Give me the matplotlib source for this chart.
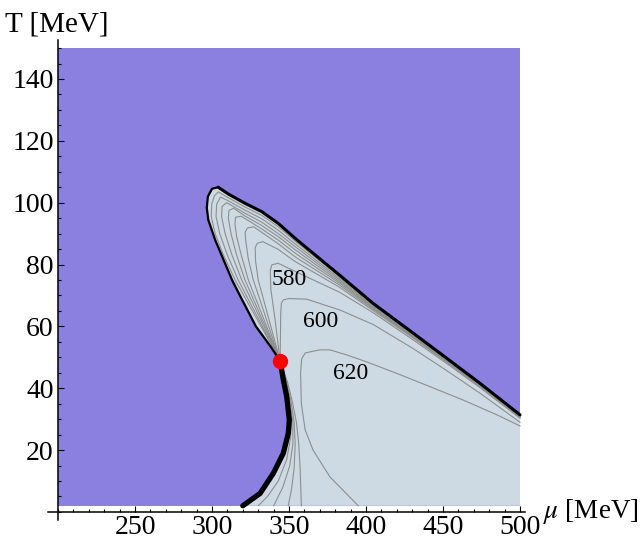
# %%
import numpy as np
import matplotlib.pyplot as plt
from matplotlib.patches import Rectangle, Polygon

plt.rcParams['font.family'] = ['Liberation Serif', 'DejaVu Serif']
plt.rcParams['mathtext.fontset'] = 'stix'

# ————————————————plot range (mu, T in MeV)
mu_range = [200, 500]
T_range = [2, 150]

# ————————————————phase boundary as (mu, T)
first_order = [(320, 2), (331.2, 6), (339.8, 12.5), (346.3, 19), (349.5, 25.4),
               (350.2, 29.7), (348.5, 37.3), (346.3, 42.7), (344.2, 48.9)]
left_edge = [(344.2, 48.9), (338, 53.5), (328.5, 60), (318.5, 69.6), (313, 75),
             (307.5, 81.5), (302, 88), (297.6, 94.4), (296.6, 98.3), (297.3, 102),
             (300, 104.5), (304, 105)]
upper_edge = [(304, 105), (310.6, 102.8), (321.4, 99.8), (332.3, 97.1), (343, 93.3),
              (353.9, 88.5), (360.4, 85.8), (383, 76.5), (404.7, 67.4), (430.7, 57.8),
              (452.4, 49.7), (474, 41.6), (500, 31.4)]
crit_point = (344.2, 48.9)

# ————————————————contour lines
fan_1 = [(344.2, 48.9), (337.4, 55), (329.6, 62), (315, 75), (307.5, 83), (302, 90),
         (299.5, 95.5), (299.8, 99.5), (301.5, 102.2), (304, 103.5), (310.6, 101.6),
         (321.4, 98.6), (332.3, 95.9), (343, 92.2), (353.9, 87.6), (383, 75.9),
         (404.7, 67.0), (430.7, 57.5), (452.4, 49.45), (474, 41.4), (500, 31.25)]
fan_2 = [(344.2, 48.9), (337.8, 55), (330.6, 62), (317, 75), (310, 83), (305, 90),
         (302.6, 95.5), (303, 99.5), (305.5, 101.8), (310.6, 100.6), (321.4, 97.6),
         (332.3, 94.8), (343, 91.1), (353.9, 86.7), (383, 75.4), (404.7, 66.7),
         (430.7, 57.3), (452.4, 49.3), (474, 41.3), (500, 31.15)]
fan_3 = [(344.2, 48.9), (338.4, 55), (331.8, 62), (319.3, 75), (313, 83), (308.5, 90),
         (306.2, 95.5), (306.5, 98.8), (309.5, 100), (321.4, 96.6), (332.3, 93.7),
         (343, 90.0), (353.9, 85.8), (383, 74.9), (404.7, 66.4), (430.7, 57.1),
         (452.4, 49.15), (474, 41.15), (500, 31.05)]
fan_4 = [(344.2, 48.9), (338.9, 55), (332.8, 62), (321.4, 75), (316, 83), (312.3, 90),
         (310.6, 95), (311, 97.5), (314, 98.2), (321.4, 95.7), (332.3, 92.6),
         (343, 89.0), (353.9, 84.8), (383, 74.4), (404.7, 66.1), (430.7, 56.9),
         (452.4, 49.0), (474, 41.05), (500, 30.95)]
fan_5 = [(344.2, 48.9), (339.4, 55), (333.9, 62), (323.6, 75), (319, 83), (316, 89),
         (314.9, 93), (315.3, 95.3), (319, 95.6), (332.3, 91.5), (343, 87.9),
         (353.9, 83.7), (383, 73.9), (404.7, 65.8), (430.7, 56.7), (452.4, 48.85),
         (474, 40.9), (500, 30.85)]
fan_6 = [(344.2, 48.9), (340.1, 55), (335.5, 62), (326.8, 75), (323.5, 82), (321.8, 88),
         (321.5, 90.5), (323, 91.8), (327, 92.2), (332.3, 90.4), (343, 86.7),
         (353.9, 82.5), (383, 73.3), (404.7, 65.5), (430.7, 56.5), (452.4, 48.7),
         (474, 40.8), (500, 30.75)]
fan_7 = [(344.2, 48.9), (340.9, 55), (337.1, 62), (330, 75), (328.3, 81), (328, 85.5),
         (329.5, 86.9), (333, 87.4), (343, 84.9), (353.9, 81.0), (383, 72.6),
         (404.7, 65.1), (430.7, 56.2), (452.4, 48.45), (474, 40.6), (500, 30.6)]
fan_580 = [(344.2, 48.9), (342.7, 55), (341, 62), (338.2, 72), (337.8, 78), (338.8, 79.9),
           (343, 80.4), (353.9, 77.8), (383, 71.0), (404.7, 64.4), (430.7, 55.6),
           (452.4, 48.0), (474, 40.2), (500, 30.3)]
fan_600 = [(344.2, 48.9), (344.4, 56), (344.6, 64), (345, 67.5), (346.5, 68.6), (350, 69.0),
           (361.5, 68.8), (383, 65.3), (404.7, 60.6), (430.7, 52.8), (452.4, 45.7),
           (474, 38.4), (500, 29.0)]
line_620 = [(395, 2), (376.6, 11.3), (365.6, 20), (360.5, 26.5), (358, 35), (357.5, 45),
            (358.2, 49.5), (360.5, 51.4), (364, 51.8), (370, 52.4), (376.6, 52.4),
            (387.4, 50.8), (400, 48.6), (420, 44.8), (441.6, 40.5), (463, 36.2),
            (485, 31.4), (500, 27.8)]
lower_1 = [(344.2, 48.9), (347.5, 42), (350, 36), (351.5, 29), (351, 24), (348.5, 17),
           (343, 10), (336, 5), (330, 2)]
lower_2 = [(344.2, 48.9), (348, 42), (350.5, 36), (352.5, 29), (352.5, 22), (350.5, 15),
           (346, 8), (340, 2)]
lower_3 = [(344.2, 48.9), (348.5, 42), (351.2, 36), (353.3, 29), (354, 22), (353.3, 14),
           (351.5, 7), (349.5, 2)]
lower_4 = [(344.2, 48.9), (349, 42), (352, 36), (354.8, 29), (356.3, 22), (357.2, 14),
           (357.7, 7), (358, 2)]

contour_labels = ['580', '600', '620']
label_pos = [(350, 75), (370.5, 61.5), (390, 44.8)]

x_ticks = [250, 300, 350, 400, 450, 500]
y_ticks = [20, 40, 60, 80, 100, 120, 140]

purple = '#8b7fe0'
pale = '#cddae3'
grey = '#8e8e8e'

# ————————————————figure
fig = plt.figure(figsize=(6.42, 5.42), dpi=100)
ax = fig.add_axes([0.0748, 0.0406, 0.7424, 0.8856])
ax.set_xlim(193.5, 503)
ax.set_ylim(-2.6, 152.6)

ax.add_patch(Rectangle((mu_range[0], T_range[0]), mu_range[1] - mu_range[0],
                       T_range[1] - T_range[0], facecolor=purple, edgecolor='none', zorder=1))

outline = first_order + left_edge[1:] + upper_edge[1:] + [(mu_range[1], T_range[0])]
ax.add_patch(Polygon(outline, closed=True, facecolor=pale, edgecolor='none', zorder=2))

for c in [fan_1, fan_2, fan_3, fan_4, fan_5, fan_6, fan_7, fan_580, fan_600, line_620,
          lower_1, lower_2, lower_3, lower_4]:
    c = np.array(c)
    ax.plot(c[:, 0], c[:, 1], color=grey, lw=0.8, zorder=3)

le = np.array(left_edge)
ax.plot(le[:, 0], le[:, 1], color='black', lw=1.6, zorder=4, solid_capstyle='round')
ue = np.array(upper_edge)
ax.plot(ue[:, 0], ue[:, 1], color='black', lw=2.2, zorder=4, solid_capstyle='round')
fo = np.array(first_order)
ax.plot(fo[:, 0], fo[:, 1], color='black', lw=3.8, zorder=4, solid_capstyle='round')

ax.plot(crit_point[0], crit_point[1], 'o', color='red', markersize=10, zorder=5)

for s, (x, y) in zip(contour_labels, label_pos):
    ax.text(x, y, s, fontsize=17, ha='center', va='center', zorder=6)

# ————————————————axes
for side in ['top', 'right']:
    ax.spines[side].set_visible(False)
ax.spines['bottom'].set_position(('data', 0))
ax.spines['left'].set_position(('data', 200))
for side in ['bottom', 'left']:
    ax.spines[side].set_linewidth(1.1)
    ax.spines[side].set_zorder(7)

ax.set_xticks(x_ticks)
ax.set_xticks(np.arange(200, 501, 10), minor=True)
ax.set_yticks(y_ticks)
ax.set_yticks(np.arange(0, 151, 5), minor=True)
ax.tick_params(which='both', direction='in', width=0.8, labelsize=20)
ax.tick_params(which='major', length=4.5)
ax.tick_params(which='minor', length=2.5)
ax.tick_params(axis='x', pad=2.5)
ax.tick_params(axis='y', pad=3)

fig.text(0.008, 1 - 31 / 542, 'T [MeV]', fontsize=21, va='baseline')
fig.text(543 / 642, 1 - 518 / 542, r'$\mu$ [MeV]', fontsize=19.5, va='baseline')

fig.savefig('out.png', dpi=100)
